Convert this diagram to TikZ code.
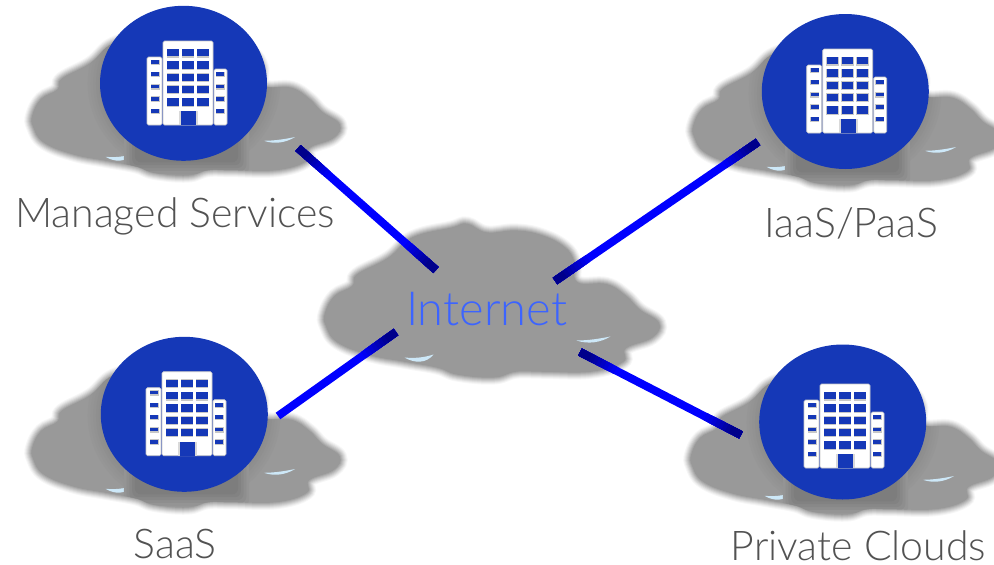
\documentclass[tikz,border=0pt]{standalone}
\usepackage{fontspec}
\setmainfont[UprightFont={* Light}]{Lato}
\usetikzlibrary{calc,shapes.geometric}
\definecolor{hubblue}{RGB}{21,56,183}
\definecolor{cloudgray}{RGB}{153,153,153}
\definecolor{shadegray}{RGB}{122,122,122}
\definecolor{dropblue}{RGB}{205,232,248}
\definecolor{linkdark}{RGB}{0,0,139}
\definecolor{netblue}{RGB}{60,100,255}
\newcommand{\cloudpath}{
    plot [smooth cycle, tension=.7] coordinates {
    (-172,10) (-162,-8) (-144,-18) (-139,-30) (-107,-47) (-82,-68) (-42,-78) (-26,-82)
    (-6,-73) (24,-75) (51,-70) (74,-58) (84,-43) (87,-22) (117,-20) (137,-8) (151,6)
    (171,20) (164,35) (137,46) (134,60) (101,70) (51,70) (24,70) (1,76) (-36,73)
    (-56,66) (-89,60) (-126,53) (-159,40) (-171,23)}
}
\tikzset{
    hub/.style={ellipse, fill=hubblue, minimum width=167, minimum height=155, inner sep=0},
    tag/.style={text=black!68, font=\fontsize{41}{48}\selectfont, inner sep=0, anchor=base},
    pics/cloudblob/.style={code={
        \begin{scope}[scale=.975]
            \foreach \w/\c in {14/8,12/18,10/30,8/44,6/58,4/72,2/86}
            {
                \draw [line width=\w, cloudgray!\c!white] \cloudpath;
            }
            \fill [cloudgray] \cloudpath;
        \end{scope}
        \fill [dropblue] (-88,54) .. controls (-78,60) and (-66,60) .. (-59,51) .. controls (-68,54) and (-78,55) .. (-88,54);
        \fill [dropblue] (84,37) .. controls (96,41) and (108,39) .. (118,33) .. controls (108,35) and (96,37) .. (84,37);
    }},
    pics/cloudshade/.style={code={
        \begin{scope}
            \clip [scale=.975] \cloudpath;
            \foreach \d/\c in {14/8,11/16,8/24,5/32,2/40}
            {
                \fill [shadegray!\c!cloudgray] (-2.7,-24) ellipse ({90.7+\d} and {83+\d});
            }
            \foreach \d/\c in {0/15,3/35,6/55,9/75,12/90}
            {
                \fill [shadegray!\c!cloudgray, rounded corners=6] (-68+\d,-20) rectangle (68-\d,72-\d);
            }
        \end{scope}
    }},
    pics/tower/.style={code={
        \fill [white, draw=black!22, line width=.6, rounded corners=1.5] (-21,-42) rectangle (29,42);
        \fill [white, draw=black!22, line width=.6, rounded corners=1.5] (-37,-26) rectangle (-22,42);
        \fill [white, draw=black!22, line width=.6, rounded corners=1.5] (30,-14) rectangle (43,42);
        \foreach \r in {0,...,4}
        {
            \foreach \c in {0,1,2}
            {
                \fill [black!22] (-17.5+15*\c,{-34.5+12.3*\r}) rectangle ++(12.7,9);
                \fill [hubblue] (-17+15*\c,{-34+12.3*\r}) rectangle ++(11.7,7.3);
            }
        }
        \foreach \r in {0,...,4}
        {
            \fill [black!22] (-33.5,{-23.5+12.3*\r}) rectangle ++(9,5.4);
            \fill [hubblue] (-33,{-23+12.3*\r}) rectangle ++(8,3.6);
        }
        \foreach \r in {1,...,4}
        {
            \fill [black!22] (31.5,{-23.5+12.3*\r}) rectangle ++(9,5.4);
            \fill [hubblue] (32,{-23+12.3*\r}) rectangle ++(8,3.6);
        }
        \fill [black!15] (-5,28) rectangle (14,42);
        \fill [hubblue] (-3,28) rectangle (12,42);
    }}
}
\begin{document}
\begin{tikzpicture}[x=1pt, y=-1pt]
    \useasboundingbox (0,0) rectangle (994,565);

    % clouds
    \foreach \x/\y/\name in {186.5/106/managedcloud,847.5/116/iaascloud,186.5/438/saascloud,845.5/445/privatecloud}
    {
        \pic (\name) at (\x,\y) [xscale=.92, yscale=.94] {cloudblob};
        \pic (\name shade) at (\x,\y) [xscale=.92, yscale=.94] {cloudshade};
    }
    \pic (internetcloud) at (492.5,303.5) {cloudblob};

    % hubs
    \node [hub] (managed) at (183.5,83.3) {};
    \node [hub] (iaas) at (845.3,91.5) {};
    \node [hub] (saas) at (184.3,414.3) {};
    \node [hub] (private) at (842.7,422) {};
    \pic (managedtower) at (184,83) {tower};
    \pic (iaastower) at (843.7,91) {tower};
    \pic (saastower) at (183,413.7) {tower};
    \pic (privatetower) at (841,426) {tower};

    % labels
    \node [tag] (managedtag) at (175,227) {Managed Services};
    \node [tag] (iaastag) at (851.5,237) {IaaS/PaaS};
    \node [tag] (saastag) at (175,558) {SaaS};
    \node [tag] (privatetag) at (858.5,560) {Private Clouds};
    \node [tag, text=netblue, font=\fontsize{47}{54}\selectfont] (internet) at (486.5,325) {Internet};

    % free ends of the links
    \coordinate (a1) at (298,148); \coordinate (b1) at (436,270);
    \coordinate (a2) at (758,142); \coordinate (b2) at (555,281);
    \coordinate (a3) at (278,416); \coordinate (b3) at (396,332);
    \coordinate (a4) at (741,435); \coordinate (b4) at (580,352);

    \foreach \a/\b in {a1/b1,a2/b2,a3/b3,a4/b4}
    {
        \draw [line width=8, blue] (\a)--(\b);
    }
    \foreach \a/\b in {a1/b1,b1/a1,a2/b2,b2/a2,b3/a3,a4/b4,b4/a4}
    {
        \foreach \l/\c in {40/12,36/25,32/38,28/50,24/62,20/75,16/88,12/100}
        {
            \draw [line width=8, linkdark!\c!blue] (\a)--($(\a)!\l pt!(\b)$);
        }
    }
\end{tikzpicture}
\end{document}
